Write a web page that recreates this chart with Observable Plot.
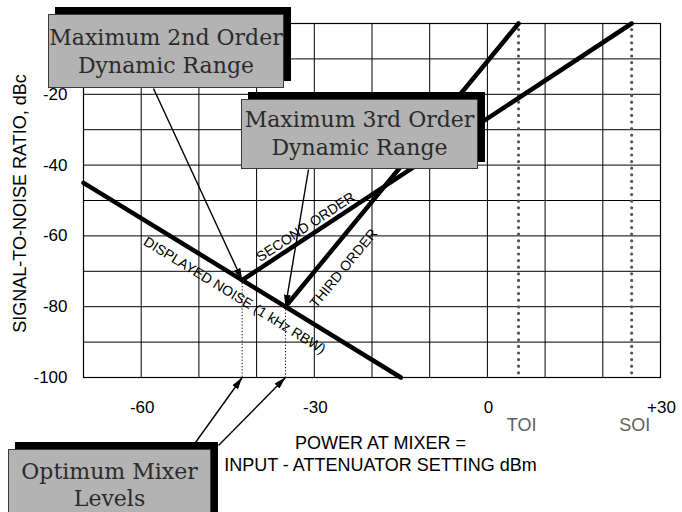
<!DOCTYPE html>
<html>
<head>
<meta charset="utf-8">
<script src="https://cdn.jsdelivr.net/npm/d3@7"></script>
<script src="https://cdn.jsdelivr.net/npm/@observablehq/plot@0.6"></script>
<style>
  body { margin: 0; background: #fff; }
  #wrap { position: relative; width: 682px; height: 512px; overflow: hidden; }
  #wrap svg { position: absolute; left: 0; top: 0; }
  .callout {
    position: absolute; box-sizing: border-box;
    background: #b3b3b3; border: 1px solid #3a3a3a;
    box-shadow: 7px -7px 0 0 #000;
    font-family: 'DejaVu Serif', serif; font-size: 22px; line-height: 28px;
    color: #2b2b2b; text-align: center; white-space: nowrap;
  }
</style>
</head>
<body>
<div id="wrap"></div>
<script>
// ---- data ----
const xTicks = [-60, -30, 0, 30];
const yTicks = [-20, -40, -60, -80, -100];
const gridX = [-70, -60, -50, -40, -30, -20, -10, 0, 10, 20, 30];
const gridY = [-100, -90, -80, -70, -60, -50, -40, -30, -20, -10, 0];

const noiseX = [-70, -15];
const noiseY = [-45, -100];
const secondX = [-42.5, 25];
const secondY = [-72.5, 0];
const thirdX = [-35, 5.4];
const thirdY = [-80, 0];

const interceptNames = ["TOI", "SOI"];
const interceptX = [5.4, 25];

const optimumX = [-42.5, -35];
const optimumY = [-72.5, -80];

const lineLabels = ["DISPLAYED NOISE (1 kHz RBW)", "SECOND ORDER", "THIRD ORDER"];
const yTitle = "SIGNAL-TO-NOISE RATIO, dBc";
const xTitle = "POWER AT MIXER =\nINPUT - ATTENUATOR SETTING dBm";
const calloutTexts = [
  ["Maximum 2nd Order", "Dynamic Range"],
  ["Maximum 3rd Order", "Dynamic Range"],
  ["Optimum Mixer", "Levels"]
];

// ---- layout ----
const W = 682, H = 512;
const M = {top: 23, right: 22, bottom: 135, left: 83};
const xDomain = [-70, 30], yDomain = [-100, 0];
const xs = Plot.scale({x: {domain: xDomain, range: [M.left, W - M.right]}});
const ys = Plot.scale({y: {domain: yDomain, range: [H - M.bottom, M.top]}});
const kx = (W - M.right - M.left) / (xDomain[1] - xDomain[0]);
const ky = (H - M.bottom - M.top) / (yDomain[1] - yDomain[0]);
const angleOf = (X, Y) => -Math.atan2((Y[1] - Y[0]) * ky, (X[1] - X[0]) * kx) * 180 / Math.PI;

// label positions (data units) and orientation from the line slopes
const labelX = [-43.8, -31.5, -24.9];
const labelY = [-76.8, -57.5, -69.2];
const labelAngle = [angleOf(noiseX, noiseY), angleOf(secondX, secondY), angleOf(thirdX, thirdY)];

// callout boxes (pixels)
const boxes = [
  {left: 48, top: 14, width: 236, height: 74, pad: 9, lh: 28},
  {left: 241, top: 99, width: 237, height: 70, pad: 6, lh: 28},
  {left: 8, top: 449, width: 203, height: 80, pad: 8, lh: 27}
];
// arrow starting anchors at callout edges (pixels)
const arrowStartPx = [[153, 88], [308, 169], [195, 442], [218, 445]];
const arrowEnd = [
  [optimumX[0], optimumY[0]],
  [optimumX[1], optimumY[1]],
  [optimumX[0], yDomain[0]],
  [optimumX[1], yDomain[0]]
];
const arrows = arrowStartPx.map((p, i) => ({
  x1: xs.invert(p[0]), y1: ys.invert(p[1]), x2: arrowEnd[i][0], y2: arrowEnd[i][1]
}));

const fmt = d => d > 0 ? "+" + d : String(d);

const chart = Plot.plot({
  width: W, height: H,
  marginTop: M.top, marginRight: M.right, marginBottom: M.bottom, marginLeft: M.left,
  x: {domain: xDomain},
  y: {domain: yDomain},
  style: {fontFamily: "'Liberation Sans', Arial, sans-serif", fontSize: "17px", color: "#000", background: "#fff", overflow: "visible"},
  marks: [
    Plot.ruleX(gridX, {stroke: "#000", strokeWidth: 1}),
    Plot.ruleY(gridY, {stroke: "#000", strokeWidth: 1}),
    Plot.frame({stroke: "#000", strokeWidth: 1.2}),
    Plot.axisX(xTicks, {tickSize: 0, tickPadding: 23, tickFormat: fmt, fontSize: 17, dx: 1, label: null}),
    Plot.axisY(yTicks, {tickSize: 0, tickPadding: 16, tickFormat: fmt, fontSize: 17, label: null}),
    Plot.ruleX(interceptX, {stroke: "#555", strokeWidth: 3.2, strokeDasharray: "0 6.6", strokeLinecap: "round"}),
    Plot.ruleX(optimumX.map((d, i) => i), {x: i => optimumX[i], y1: i => optimumY[i], y2: () => yDomain[0], stroke: "#000", strokeWidth: 1, strokeDasharray: "1.2 2"}),
    Plot.line(d3.zip(noiseX, noiseY), {stroke: "#000", strokeWidth: 4.5, strokeLinecap: "round"}),
    Plot.line(d3.zip(secondX, secondY), {stroke: "#000", strokeWidth: 4.5, strokeLinecap: "round"}),
    Plot.line(d3.zip(thirdX, thirdY), {stroke: "#000", strokeWidth: 4.5, strokeLinecap: "round"}),
    Plot.link(arrows, {x1: "x1", y1: "y1", x2: "x2", y2: "y2", stroke: "#000", strokeWidth: 1.4}),
    Plot.text(lineLabels, {x: labelX, y: labelY, rotate: labelAngle, text: d => d, fontSize: 14, fill: "#000"}),
    Plot.text(interceptNames, {x: interceptX, text: d => d, frameAnchor: "bottom", dy: 53, dx: 3, fill: "#606060", fontSize: 18}),
    Plot.text([yTitle], {text: d => d, frameAnchor: "left", textAnchor: "middle", rotate: -90, dx: -63, dy: 3, fontSize: 18, fill: "#000"}),
    Plot.text([xTitle], {text: d => d, frameAnchor: "bottom", lineAnchor: "top", dy: 56, dx: 8.5, fontSize: 18, lineHeight: 1.22, fill: "#000"})
  ]
});

// filled arrowheads for the callout arrows
const svgNS = "http://www.w3.org/2000/svg";
const defs = document.createElementNS(svgNS, "defs");
const marker = document.createElementNS(svgNS, "marker");
marker.setAttribute("id", "ahead");
marker.setAttribute("viewBox", "0 0 12 7");
marker.setAttribute("refX", "12");
marker.setAttribute("refY", "3.5");
marker.setAttribute("markerWidth", "12");
marker.setAttribute("markerHeight", "7");
marker.setAttribute("markerUnits", "userSpaceOnUse");
marker.setAttribute("orient", "auto");
const mp = document.createElementNS(svgNS, "path");
mp.setAttribute("d", "M0,0L12,3.5L0,7Z");
mp.setAttribute("fill", "#000");
marker.appendChild(mp);
defs.appendChild(marker);
chart.insertBefore(defs, chart.firstChild);
chart.querySelectorAll('g[aria-label="link"] path').forEach(p => p.setAttribute("marker-end", "url(#ahead)"));

const wrap = document.getElementById("wrap");
wrap.appendChild(chart);

boxes.forEach((b, i) => {
  const div = document.createElement("div");
  div.className = "callout";
  div.style.left = b.left + "px";
  div.style.top = b.top + "px";
  div.style.width = b.width + "px";
  div.style.height = b.height + "px";
  div.style.paddingTop = b.pad + "px";
  div.style.lineHeight = b.lh + "px";
  calloutTexts[i].forEach(t => {
    const line = document.createElement("div");
    line.textContent = t;
    div.appendChild(line);
  });
  wrap.appendChild(div);
});
</script>
</body>
</html>
